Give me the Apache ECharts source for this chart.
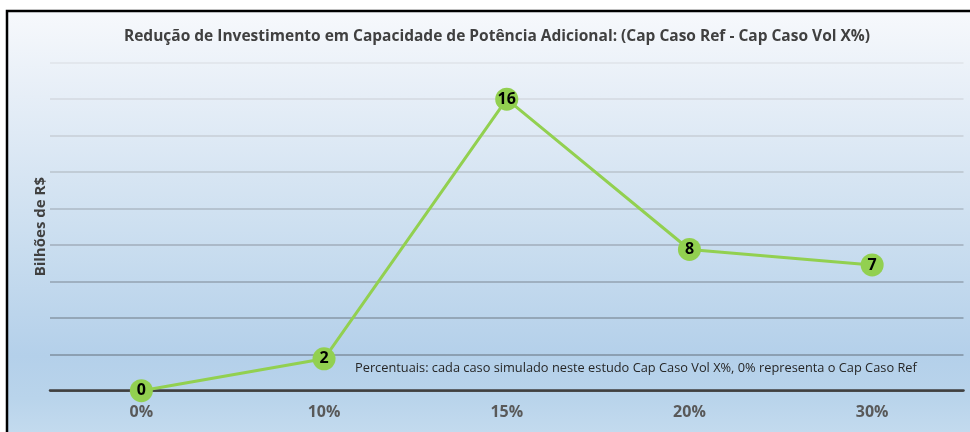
<!DOCTYPE html>
<html>
<head>
<meta charset="utf-8">
<script src="https://cdn.jsdelivr.net/npm/echarts@6/dist/echarts.min.js"></script>
<style>
  html, body { margin: 0; padding: 0; background: #fff; }
  #main { width: 970px; height: 432px; }
</style>
</head>
<body>
<div id="main"></div>
<script>
// categorias e valores (bilhões de R$)
const categorias = ['0%', '10%', '15%', '20%', '30%'];
const valores = [0, 1.75, 16, 7.75, 6.9];
const titulo = 'Redução de Investimento em Capacidade de Potência Adicional: (Cap Caso Ref - Cap Caso Vol X%)';
const nota = 'Percentuais: cada caso simulado neste estudo Cap Caso Vol X%, 0% representa o Cap Caso Ref';

// linhas de grade mais escuras embaixo
const gridColors = ['#404040', '#7f8f9f', '#8797a7', '#93a2b1', '#a0adbb', '#adb8c4', '#bac3cd', '#c7ced6', '#d3d9e0', '#dfe3e8'];

const chart = echarts.init(document.getElementById('main'));
chart.setOption({
    animation: false,
    graphic: [
        {
            type: 'rect',
            z: -10,
            shape: { x: 7, y: 11, width: 1000, height: 430 },
            style: {
                stroke: '#000',
                lineWidth: 2.5,
                fill: {
                    type: 'linear', x: 0, y: 0, x2: 0, y2: 1,
                    colorStops: [
                        { offset: 0, color: '#f7f9fc' },
                        { offset: 0.2, color: '#e6eef7' },
                        { offset: 0.55, color: '#c9ddef' },
                        { offset: 0.8, color: '#b4d0ea' },
                        { offset: 0.9, color: '#b9d4eb' },
                        { offset: 1, color: '#c6dcef' }
                    ]
                }
            }
        },
        {
            type: 'text',
            left: 355,
            top: 362,
            style: {
                text: nota,
                fontFamily: 'Open Sans',
                fontSize: 12.8,
                fill: '#262626'
            }
        }
    ],
    title: {
        text: titulo,
        left: 492,
        textAlign: 'center',
        top: 24,
        textStyle: {
            fontFamily: 'Open Sans',
            fontWeight: 'bold',
            fontSize: 15.5,
            color: '#404040'
        }
    },
    grid: {
        left: 50,
        right: 6.5,
        top: 62.7,
        bottom: 432 - 390.7,
        containLabel: false
    },
    xAxis: {
        type: 'category',
        data: categorias,
        boundaryGap: true,
        axisLine: { show: true, lineStyle: { color: '#404040', width: 2.5 } },
        axisTick: { show: false },
        axisLabel: {
            margin: 14,
            fontFamily: 'Open Sans',
            fontWeight: 'bold',
            fontSize: 16,
            color: '#595959'
        }
    },
    yAxis: {
        type: 'value',
        min: 0,
        max: 18,
        interval: 2,
        name: 'Bilhões de R$',
        nameLocation: 'middle',
        nameGap: 2,
        nameRotate: 90,
        nameTextStyle: {
            fontFamily: 'Open Sans',
            fontWeight: 'bold',
            fontSize: 15,
            color: '#404040'
        },
        axisLabel: { show: false },
        axisLine: { show: false },
        axisTick: { show: false },
        splitLine: {
            lineStyle: { color: gridColors, width: 1.5 }
        }
    },
    series: [
        {
            type: 'line',
            data: valores,
            symbol: 'circle',
            symbolSize: 23,
            itemStyle: { color: '#92d050' },
            lineStyle: { color: '#92d050', width: 3 },
            label: {
                show: true,
                position: 'inside',
                formatter: p => Math.round(p.value),
                fontFamily: 'Open Sans',
                fontWeight: 'bold',
                fontSize: 16,
                color: '#000'
            },
            z: 5
        }
    ]
});
</script>
</body>
</html>
